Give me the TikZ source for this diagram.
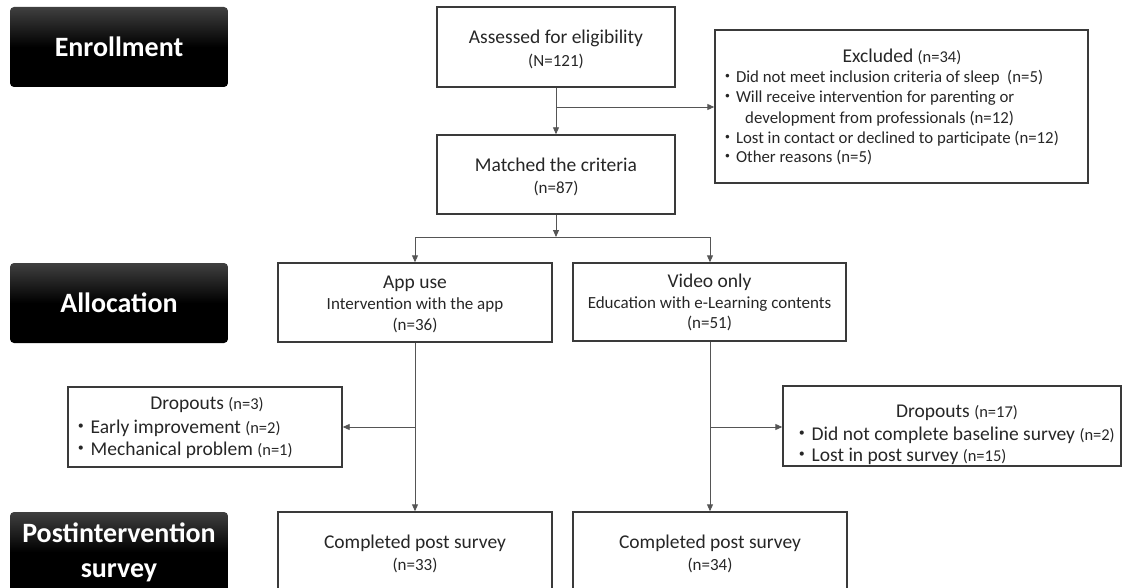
\documentclass[tikz,border=0pt]{standalone}
\usepackage{fontspec}
\setmainfont{Carlito}
\newfontfamily\cjk{Noto Sans CJK JP}
\usetikzlibrary{arrows.meta}
\definecolor{txtc}{HTML}{262626}
\definecolor{edgec}{HTML}{3A3A3A}
\definecolor{connc}{HTML}{555555}
\newcommand{\fsz}[1]{\fontsize{#1}{#1}\selectfont}
\newcommand{\bul}{{\cjk ・}}
\begin{document}
\begin{tikzpicture}[x=1pt,y=-1pt,
  stage/.style={rounded corners=4pt, top color=black!75, bottom color=black, middle color=black,
    text=white, font=\fontsize{28}{35}\selectfont\bfseries, align=center,
    minimum width=218pt, minimum height=80pt, inner sep=0pt},
  box/.style={draw=edgec, line width=1.4pt, inner sep=0pt},
  t/.style={text=txtc, font=\fsz{19.5}, inner sep=0pt},
  ts/.style={text=txtc, font=\fsz{17}, inner sep=0pt},
  tb/.style={text=txtc, font=\fsz{16.8}, inner sep=0pt},
  td/.style={text=txtc, font=\fsz{19.5}, inner sep=0pt},
  conn/.style={draw=connc, line width=0.9pt},
  arr/.style={conn, -{Triangle[length=7pt,width=6pt]}}]
\useasboundingbox (0,0) rectangle (1124,588);
\clip (0,0) rectangle (1124,588);

% stage labels
\node[stage] (enroll) at (119,47) {Enrollment};
\node[stage] (alloc) at (119,303) {Allocation};
\node[stage] (post) at (119,552) {Postintervention\\survey};

% boxes
\node[box, minimum width=238pt, minimum height=80pt] (assess) at (556,47) {};
\node[box, minimum width=373pt, minimum height=153pt] (excl) at (901.5,106.5) {};
\node[box, minimum width=238pt, minimum height=79pt] (match) at (556,174.5) {};
\node[box, minimum width=274pt, minimum height=79pt] (app) at (415,302.5) {};
\node[box, minimum width=273pt, minimum height=78pt] (video) at (709.5,302) {};
\node[box, minimum width=274pt, minimum height=80pt] (dropL) at (205,427) {};
\node[box, minimum width=338pt, minimum height=80pt] (dropR) at (952,426) {};
\node[box, minimum width=274pt, minimum height=90pt] (comp1) at (415,557) {};
\node[box, minimum width=274pt, minimum height=90pt] (comp2) at (710,557) {};

% texts
\node[t] (assessA) at (556,38) {Assessed for eligibility};
\node[ts] (assessB) at (556,61) {(N=121)};

\node[t] (exH) at (902,57) {Excluded {\fsz{16.5}(n=34)}};
\node[tb, anchor=west] (ex1) at (719,78) {\bul Did not meet inclusion criteria of sleep\ \ (n=5)};
\node[tb, anchor=west] (ex2) at (719,98) {\bul Will receive intervention for parenting or};
\node[tb, anchor=west] (ex2b) at (745,119) {development from professionals (n=12)};
\node[tb, anchor=west] (ex3) at (719,139) {\bul Lost in contact or declined to participate (n=12)};
\node[tb, anchor=west] (ex4) at (719,158) {\bul Other reasons (n=5)};

\node[t] (matchA) at (556,165) {Matched the criteria};
\node[ts] (matchB) at (556,188) {(n=87)};

\node[t] (appA) at (415,284) {App use};
\node[ts] (appB) at (415,305) {Intervention with the app};
\node[ts] (appC) at (415,325) {(n=36)};

\node[t] (vidA) at (709.5,282) {Video only};
\node[ts] (vidB) at (709.5,304) {Education with e-Learning contents};
\node[ts] (vidC) at (709.5,323) {(n=51)};

\node[td] (dlH) at (207,405) {Dropouts {\fsz{16.5}(n=3)}};
\node[td, anchor=west] (dl1) at (71,428) {\bul Early improvement {\fsz{16.5}(n=2)}};
\node[td, anchor=west] (dl2) at (71,450) {\bul Mechanical problem {\fsz{16.5}(n=1)}};

\node[td] (drH) at (957,413) {Dropouts {\fsz{16.5}(n=17)}};
\node[td, anchor=west] (dr1) at (792,435) {\bul Did not complete baseline survey {\fsz{16.5}(n=2)}};
\node[td, anchor=west] (dr2) at (792,456) {\bul Lost in post survey {\fsz{16.5}(n=15)}};

\node[t] (c1A) at (415,543) {Completed post survey};
\node[ts] (c1B) at (415,565) {(n=33)};
\node[t] (c2A) at (710,543) {Completed post survey};
\node[ts] (c2B) at (710,565) {(n=34)};

% connectors
\coordinate (j1) at (556,107);
\coordinate (j2) at (556,237);
\coordinate (jL) at (415,237);
\coordinate (jR) at (710,237);
\coordinate (j3) at (415,427);
\coordinate (j4) at (710,427);

\draw[arr] (assess.south) -- (match.north);
\draw[arr] (j1) -- (excl.west |- j1);
\draw[arr] (match.south) -- (j2);
\draw[conn] (jL) -- (jR);
\draw[arr] (jL) -- (app.north);
\draw[arr] (jR) -- (video.north -| jR);
\draw[arr] (app.south) -- (comp1.north);
\draw[arr] (j3) -- (dropL.east |- j3);
\draw[arr] (video.south -| j4) -- (comp2.north);
\draw[arr] (j4) -- (dropR.west |- j4);
\end{tikzpicture}
\end{document}
